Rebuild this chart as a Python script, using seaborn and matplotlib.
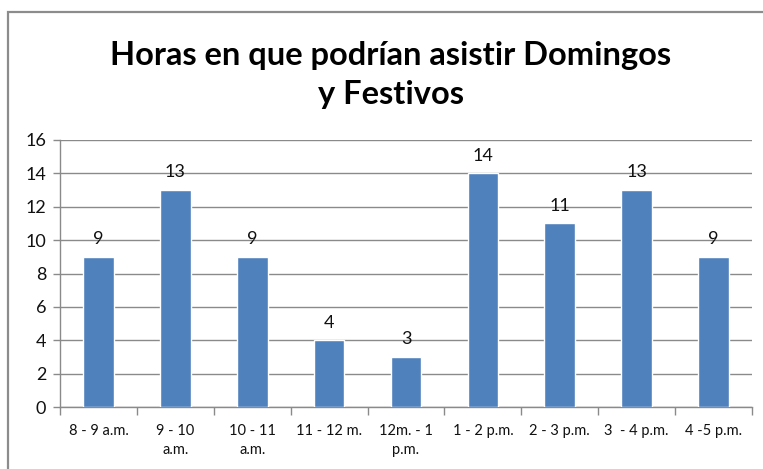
import matplotlib
matplotlib.use("Agg")
import matplotlib.pyplot as plt
import seaborn as sns
import pandas as pd
from matplotlib.patches import Rectangle

categories = ["8 - 9 a.m.", "9 - 10\na.m.", "10 - 11\na.m.", "11 - 12 m.",
              "12m. - 1\np.m.", "1 - 2 p.m.", "2 - 3 p.m.", "3  - 4 p.m.", "4 -5 p.m."]
values = [9, 13, 9, 4, 3, 14, 11, 13, 9]
yticks = [0, 2, 4, 6, 8, 10, 12, 14, 16]

df = pd.DataFrame({"hora": categories, "personas": values})

sns.set_theme(style="white")
plt.rcParams["font.family"] = ["Lato", "DejaVu Sans"]

fig = plt.figure(figsize=(7.63, 4.69), dpi=100)
ax = fig.add_axes([60 / 763, 1 - 407 / 469, (752 - 60) / 763, (407 - 140) / 469])

sns.barplot(data=df, x="hora", y="personas", color="#4F81BD", width=0.4,
            saturation=1, ax=ax, zorder=3)

for c in ax.containers:
    ax.bar_label(c, labels=[str(v) for v in values], padding=7, fontsize=13, color="#111111")

ax.set_ylim(0, 16)
ax.set_yticks(yticks)
ax.set_xlim(-0.5, len(categories) - 0.5)
ax.set_xlabel("")
ax.set_ylabel("")
ax.yaxis.grid(True, color="#8a8a8a", linewidth=1, zorder=0)
ax.xaxis.grid(False)

for side in ["top", "right"]:
    ax.spines[side].set_visible(False)
for side in ["left", "bottom"]:
    ax.spines[side].set_color("#8a8a8a")
    ax.spines[side].set_linewidth(1)

ax.tick_params(axis="y", labelsize=13, length=5, width=1, color="#8a8a8a",
               left=True, pad=5, labelcolor="#111111")
ax.set_xticks(range(len(categories)))
ax.set_xticklabels(categories, fontsize=10.5, color="#111111", linespacing=1.45)
ax.tick_params(axis="x", length=0, pad=12)
ax.set_xticks([i + 0.5 for i in range(-1, len(categories))], minor=True)
ax.tick_params(axis="x", which="minor", bottom=True, length=6, width=1, color="#8a8a8a")

fig.text(0.512, 0.84, "Horas en que podrían asistir Domingos\ny Festivos",
         ha="center", va="center", fontsize=23.5, fontweight="bold",
         color="#000000", linespacing=1.4)

fig.patches.append(Rectangle((8 / 763, -0.05), 1.2, 1 - 12 / 469 + 0.05,
                             transform=fig.transFigure, fill=False,
                             edgecolor="#8c8c8c", linewidth=1.6))

fig.savefig("out.png", dpi=100)
